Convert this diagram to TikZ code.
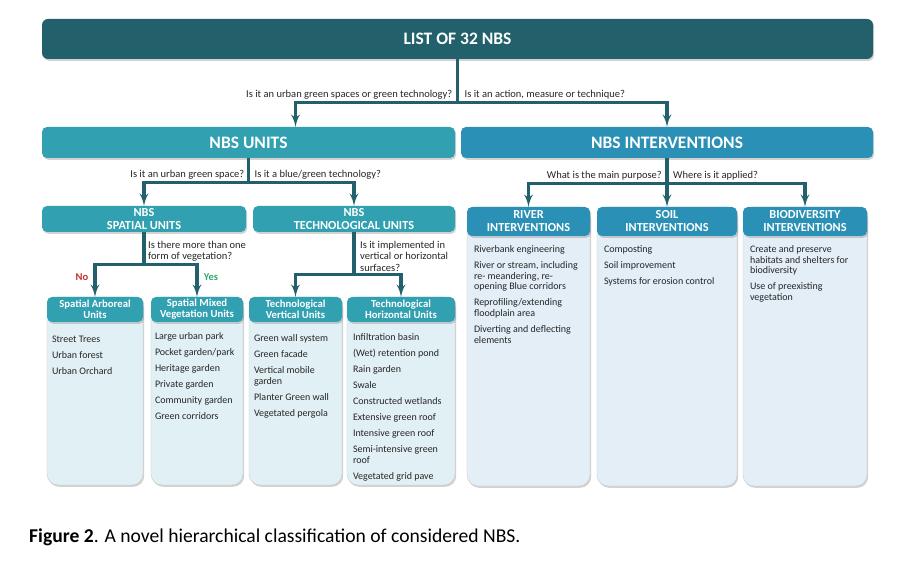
\documentclass[tikz,border=0pt]{standalone}
\usepackage{fontspec}
\setmainfont{Carlito}
\usepackage{xcolor}
\usepackage{tikz}
\usetikzlibrary{shapes,arrows,positioning,shadows}

\definecolor{darkteal}{HTML}{22616C}
\definecolor{unitteal}{HTML}{31A0B0}
\definecolor{interblue}{HTML}{2A90B6}
\definecolor{bodyteal}{HTML}{E1F0F4}
\definecolor{bodyblue}{HTML}{E3EEF6}
\definecolor{nored}{HTML}{C8302C}
\definecolor{yesgreen}{HTML}{2FA56E}

\begin{document}
\begin{tikzpicture}[x=1pt, y=-1pt, >=latex']
    \tikzstyle{boxshadow} = [drop shadow={shadow xshift=1.2pt, shadow yshift=-1.8pt, opacity=0.35}]
    \tikzstyle{tophead} = [rectangle, fill=darkteal, text=white, rounded corners=6pt,
        minimum width=831pt, minimum height=40pt, font=\bfseries\fontsize{17.5}{20}\selectfont, boxshadow]
    \tikzstyle{bighead} = [rectangle, fill=unitteal, text=white, rounded corners=5pt,
        minimum width=413pt, minimum height=31pt, font=\bfseries\fontsize{17.5}{20}\selectfont, boxshadow]
    \tikzstyle{midhead} = [rectangle, fill=unitteal, text=white, rounded corners=5pt, inner sep=1pt,
        minimum height=26pt, align=center, font=\bfseries\fontsize{12.3}{13}\selectfont, boxshadow]
    \tikzstyle{leafhead} = [midhead, minimum height=25pt, font=\bfseries\fontsize{10.7}{11}\selectfont]
    \tikzstyle{bodybox} = [rectangle, draw=black!20, line width=0.4pt, rounded corners=11pt, boxshadow]
    \tikzstyle{items} = [inner sep=0pt, align=left, text=black!85, font=\fontsize{10}{10.7}\selectfont]
    \tikzstyle{ask} = [inner sep=1pt, align=left, text=black!85, font=\fontsize{10.5}{11.5}\selectfont]
    \tikzstyle{verdict} = [inner sep=0pt, font=\bfseries\fontsize{10.5}{12}\selectfont]
    \tikzstyle{caption} = [inner sep=0pt, anchor=west, font=\fontsize{19.6}{22}\selectfont]
    \tikzstyle{line} = [draw=darkteal, ->, line width=3.2pt]

    \useasboundingbox (0,0) rectangle (900,561);
    \fill [white] (0,0) rectangle (900,561);

    % top levels
    \node [tophead] (list) at (457.5,39) {LIST OF 32 NBS};
    \node [bighead] (units) at (248.5,142.5) {NBS UNITS};
    \node [bighead, fill=interblue, minimum width=412pt, node distance=418.5pt, right of=units] (interventions) {NBS INTERVENTIONS};
    \node [midhead, minimum width=204pt] (spatial) at (144,219) {NBS\\SPATIAL UNITS};
    \node [midhead, minimum width=202pt, node distance=210pt, right of=spatial] (tech) {NBS\\TECHNOLOGICAL UNITS};

    % interventions
    \node [bodybox, fill=bodyblue, minimum width=123pt, minimum height=279pt] (riverbody) at (528.5,346.5) {};
    \node [bodybox, fill=bodyblue, minimum width=140pt, minimum height=279pt, node distance=138.5pt, right of=riverbody] (soilbody) {};
    \node [bodybox, fill=bodyblue, minimum width=124pt, minimum height=279pt, node distance=138pt, right of=soilbody] (biobody) {};
    \node [midhead, fill=interblue, minimum width=123pt, minimum height=29pt, anchor=north] (river) at (riverbody.north) {RIVER\\INTERVENTIONS};
    \node [midhead, fill=interblue, minimum width=140pt, minimum height=29pt, anchor=north] (soil) at (soilbody.north) {SOIL\\INTERVENTIONS};
    \node [midhead, fill=interblue, minimum width=124pt, minimum height=29pt, anchor=north] (bio) at (biobody.north) {BIODIVERSITY\\INTERVENTIONS};

    % units
    \node [bodybox, fill=bodyteal, minimum width=96pt, minimum height=188pt] (arborealbody) at (95,391) {};
    \node [bodybox, fill=bodyteal, minimum width=92pt, minimum height=188pt, node distance=102pt, right of=arborealbody] (mixedbody) {};
    \node [bodybox, fill=bodyteal, minimum width=93pt, minimum height=188pt, node distance=98.5pt, right of=mixedbody] (techvertbody) {};
    \node [bodybox, fill=bodyteal, minimum width=108pt, minimum height=188pt, node distance=105.5pt, right of=techvertbody] (techhorizbody) {};
    \node [leafhead, minimum width=96pt, anchor=north] (arboreal) at (arborealbody.north) {Spatial Arboreal\\Units};
    \node [leafhead, minimum width=92pt, anchor=north] (mixed) at (mixedbody.north) {Spatial Mixed\\Vegetation Units};
    \node [leafhead, minimum width=93pt, anchor=north] (techvert) at (techvertbody.north) {Technological\\Vertical Units};
    \node [leafhead, minimum width=108pt, anchor=north] (techhoriz) at (techhorizbody.north) {Technological\\Horizontal Units};

    % lists
    \node [items, anchor=north west] (arboreallist) at ([xshift=5pt,yshift=-39pt]arborealbody.north west)
        {Street Trees\\[5.3pt]Urban forest\\[5.3pt]Urban Orchard};
    \node [items, anchor=north west] (mixedlist) at ([xshift=4pt,yshift=-36pt]mixedbody.north west)
        {Large urban park\\[5.3pt]Pocket garden/park\\[5.3pt]Heritage garden\\[5.3pt]Private garden\\[5.3pt]Community garden\\[5.3pt]Green corridors};
    \node [items, anchor=north west] (techvertlist) at ([xshift=5pt,yshift=-38pt]techvertbody.north west)
        {Green wall system\\[5.3pt]Green facade\\[5.3pt]Vertical mobile\\garden\\[5.3pt]Planter Green wall\\[5.3pt]Vegetated pergola};
    \node [items, anchor=north west] (techhorizlist) at ([xshift=6pt,yshift=-36.5pt]techhorizbody.north west)
        {Infiltration basin\\[5.3pt](Wet) retention pond\\[5.3pt]Rain garden\\[5.3pt]Swale\\[5.3pt]Constructed wetlands\\[5.3pt]Extensive green roof\\[5.3pt]Intensive green roof\\[5.3pt]Semi-intensive green\\roof\\[5.3pt]Vegetated grid pave};
    \node [items, anchor=north west] (riverlist) at ([xshift=7pt,yshift=-38.5pt]riverbody.north west)
        {Riverbank engineering\\[5.3pt]River or stream, including\\re- meandering, re-\\opening Blue corridors\\[5.3pt]Reprofiling/extending\\floodplain area\\[5.3pt]Diverting and deflecting\\elements};
    \node [items, anchor=north west] (soillist) at ([xshift=7pt,yshift=-38.5pt]soilbody.north west)
        {Composting\\[5.3pt]Soil improvement\\[5.3pt]Systems for erosion control};
    \node [items, anchor=north west] (biolist) at ([xshift=7pt,yshift=-38.5pt]biobody.north west)
        {Create and preserve\\habitats and shelters for\\biodiversity\\[5.3pt]Use of preexisting\\vegetation};

    % connectors
    \path [line] (list.south) -- ++(0,43) coordinate (split1) -| ([xshift=47pt]units.north);
    \path [line] (split1) -| (interventions.north);
    \path [line] (units.south) -- ++(0,24) coordinate (split2) -| (spatial.north);
    \path [line] (split2) -| (tech.north);
    \path [line] (interventions.south) -- ++(0,25) coordinate (split5) -| (river.north);
    \path [line] (split5) -- (soil.north);
    \path [line] (split5) -| (bio.north);
    \path [line] (spatial.south) -- ++(0,32) coordinate (split3) -| (arboreal.north);
    \path [line] (split3) -| (mixed.north);
    \path [line] (tech.south) -- ++(0,42) coordinate (split4) -| (techvert.north);
    \path [line] (split4) -| (techhoriz.north);

    % questions
    \node [ask, above left=1.5pt and 4pt of split1] (askgreen) {Is it an urban green spaces or green technology?};
    \node [ask, above right=1.5pt and 6pt of split1] (askaction) {Is it an action, measure or technique?};
    \node [ask, above left=2pt and 3pt of split2] (askspace) {Is it an urban green space?};
    \node [ask, above right=2pt and 5pt of split2] (asktech) {Is it a blue/green technology?};
    \node [ask, above left=2pt and 4pt of split5] (askpurpose) {What is the main purpose?};
    \node [ask, above right=2pt and 5pt of split5] (askwhere) {Where is it applied?};
    \node [ask, anchor=north west] (askform) at ([xshift=3pt,yshift=-7.5pt]spatial.south) {Is there more than one\\form of vegetation?};
    \node [ask, anchor=north west] (asksurface) at ([xshift=5pt,yshift=-7.5pt]tech.south) {Is it implemented in\\vertical or horizontal\\surfaces?};
    \node [verdict, text=nored] (no) at ([xshift=-13pt,yshift=20pt]arboreal.north) {No};
    \node [verdict, text=yesgreen] (yes) at ([xshift=14pt,yshift=20pt]mixed.north) {Yes};

    \node [caption] (figcaption) at (29,537) {\textbf{Figure 2}. A novel hierarchical classification of considered NBS.};
\end{tikzpicture}
\end{document}
